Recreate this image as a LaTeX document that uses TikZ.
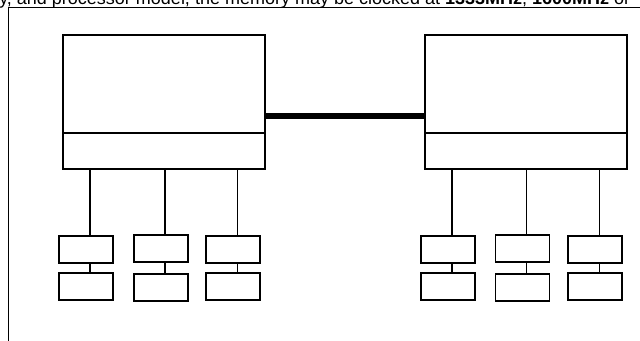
\documentclass[tikz,border=0pt]{standalone}
\usepackage{fontspec}
\setmainfont{Liberation Sans}
\usetikzlibrary{positioning}
\tikzset{
  chip/.style={draw,line width=1.1pt,minimum width=5.05cm,minimum height=2.45cm,outer sep=0pt},
  ctrl/.style={draw,line width=1.1pt,minimum width=5.05cm,minimum height=0.9cm,outer sep=0pt},
  dimm/.style={draw,line width=1.2pt,minimum width=1.35cm,minimum height=0.675cm,outer sep=0pt},
  wire/.style={line width=0.8pt},
  bus/.style={line width=3.6pt}
}
\begin{document}
\begin{tikzpicture}[x=0.025cm,y=-0.025cm]
      \useasboundingbox(0,0)rectangle(640,341);
      \clip(0,0)rectangle(640,341);
      \node[anchor=base west,inner sep=0pt,font=\fontsize{12.8pt}{15pt}\selectfont](caption)at(-1,5)
        {y, and processor model, the memory may be clocked at \textbf{1333MHz}, \textbf{1600MHz} or};
      \draw[line width=1.2pt](8.5,400)--(8.5,7.5)--(700,7.5);
      % two sockets
      \node[chip](cpuA)at(164,84){};
      \node[ctrl,below=0pt of cpuA](ctlA){};
      \node[chip](cpuB)at(526,84){};
      \node[ctrl,below=0pt of cpuB](ctlB){};
      \draw[bus]([yshift=-0.8cm]cpuA.east)--([yshift=-0.8cm]cpuB.west);
      % memory channels
      \foreach \x/\ya/\yb/\n/\s/\c in {86/249.5/286.5/1/0.1cm/A,161/248.5/287.5/2/0.1cm/A,233/249.5/286.5/3/0.12cm/A,
                                  448/249.5/286.5/4/0.1cm/B,522.5/248.5/287.5/5/0.11cm/B,595/249.5/286.5/6/0.12cm/B}{
        \node[dimm](m\n a)at(\x,\ya){};
        \node[dimm](m\n b)at(\x,\yb){};
        \draw[wire]([xshift=\s]m\n a.north)--([xshift=\s]m\n a.north |- ctl\c.south);
        \draw[wire]([xshift=\s]m\n a.south)--([xshift=\s]m\n b.north);
      }
\end{tikzpicture}
\end{document}
